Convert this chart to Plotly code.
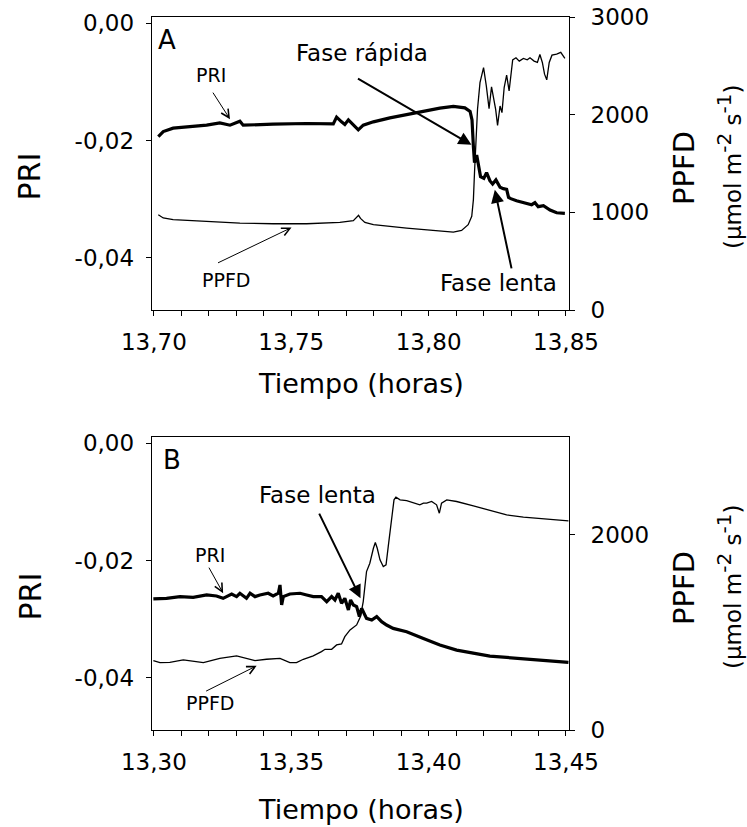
import plotly.graph_objects as go

W, H = 747, 827
FONT = "DejaVu Sans"

# ---------------- Data: panel A ----------------
t_a_pri = [13.7016, 13.7034, 13.7070, 13.7131, 13.7192, 13.7240, 13.7277, 13.7313, 13.7325, 13.7434,
           13.7556, 13.7653, 13.7665, 13.7683, 13.7695, 13.7708, 13.7726, 13.7744, 13.7762, 13.7799,
           13.7859, 13.7920, 13.7981, 13.8041, 13.8090, 13.8132, 13.8151, 13.8158, 13.8163, 13.8167,
           13.8175, 13.8181, 13.8189, 13.8201, 13.8211, 13.8223, 13.8233, 13.8245, 13.8260, 13.8272,
           13.8284, 13.8291, 13.8299, 13.8320, 13.8345, 13.8375, 13.8387, 13.8399, 13.8418, 13.8442,
           13.8466, 13.8496]
pri_a = [-0.01932, -0.01846, -0.01789, -0.01761, -0.01738, -0.01698, -0.01738, -0.01670, -0.01738, -0.01721,
         -0.01709, -0.01715, -0.01601, -0.01681, -0.01726, -0.01647, -0.01726, -0.01818, -0.01738, -0.01681,
         -0.01613, -0.01556, -0.01499, -0.01447, -0.01419, -0.01442, -0.01504, -0.01647, -0.02103, -0.02376,
         -0.02245, -0.02444, -0.02615, -0.02644, -0.02547, -0.02684, -0.02741, -0.02672, -0.02798, -0.02821,
         -0.02832, -0.02969, -0.02991, -0.03026, -0.03060, -0.03094, -0.03060, -0.03128, -0.03111, -0.03185,
         -0.03231, -0.03242]

t_a_ppfd = [13.7016, 13.7034, 13.7070, 13.7192, 13.7313, 13.7434, 13.7556, 13.7677, 13.7726, 13.7745,
            13.7752, 13.7768, 13.7799, 13.7920, 13.8041, 13.8090, 13.8120, 13.8144, 13.8157, 13.8163,
            13.8167, 13.8172, 13.8178, 13.8187, 13.8200, 13.8210, 13.8220, 13.8229, 13.8238, 13.8244,
            13.8251, 13.8260, 13.8267, 13.8275, 13.8284, 13.8293, 13.8306, 13.8318, 13.8330, 13.8345,
            13.8359, 13.8369, 13.8384, 13.8396, 13.8405, 13.8414, 13.8422, 13.8430, 13.8439, 13.8449,
            13.8466, 13.8481, 13.8496]
ppfd_a = [977, 943, 926, 908, 891, 884, 884, 898, 915, 970,
          939, 898, 874, 840, 809, 799, 816, 874, 960, 1131,
          1406, 1748, 2057, 2331, 2485, 2297, 2064, 2287, 2160, 2057,
          1892, 2091, 2023, 2280, 2407, 2245, 2564, 2585, 2551, 2578,
          2564, 2585, 2551, 2537, 2619, 2537, 2417, 2359, 2537, 2612,
          2623, 2640, 2578]

# ---------------- Data: panel B ----------------
t_b_pri = [13.2998, 13.3046, 13.3095, 13.3143, 13.3192, 13.3228, 13.3252, 13.3283, 13.3301, 13.3313,
           13.3337, 13.3350, 13.3368, 13.3386, 13.3416, 13.3434, 13.3453, 13.3459, 13.3465, 13.3471,
           13.3495, 13.3532, 13.3556, 13.3580, 13.3610, 13.3629, 13.3647, 13.3659, 13.3671, 13.3683,
           13.3695, 13.3708, 13.3716, 13.3726, 13.3738, 13.3748, 13.3756, 13.3765, 13.3774, 13.3793,
           13.3811, 13.3829, 13.3847, 13.3871, 13.3920, 13.3981, 13.4041, 13.4102, 13.4163, 13.4223,
           13.4284, 13.4345, 13.4405, 13.4466, 13.4509]
pri_b = [-0.02655, -0.02644, -0.02615, -0.02627, -0.02587, -0.02604, -0.02644, -0.02570, -0.02615, -0.02558,
         -0.02644, -0.02558, -0.02615, -0.02587, -0.02558, -0.02604, -0.02558, -0.02416, -0.02758, -0.02615,
         -0.02570, -0.02558, -0.02587, -0.02615, -0.02615, -0.02701, -0.02615, -0.02672, -0.02558, -0.02729,
         -0.02644, -0.02843, -0.02672, -0.02758, -0.02786, -0.02957, -0.02815, -0.02900, -0.02986, -0.03014,
         -0.02957, -0.03043, -0.03100, -0.03157, -0.03214, -0.03328, -0.03442, -0.03527, -0.03584, -0.03630,
         -0.03652, -0.03675, -0.03709, -0.03726, -0.03738]

t_b_ppfd = [13.2998, 13.3022, 13.3058, 13.3107, 13.3180, 13.3240, 13.3301, 13.3337, 13.3368, 13.3410,
            13.3459, 13.3495, 13.3519, 13.3544, 13.3580, 13.3610, 13.3623, 13.3647, 13.3665, 13.3683,
            13.3695, 13.3714, 13.3738, 13.3752, 13.3762, 13.3774, 13.3786, 13.3799, 13.3806, 13.3813,
            13.3823, 13.3835, 13.3845, 13.3853, 13.3865, 13.3874, 13.3881, 13.3896, 13.3920, 13.3944,
            13.3968, 13.3981, 13.3993, 13.4011, 13.4029, 13.4039, 13.4047, 13.4066, 13.4102, 13.4163,
            13.4223, 13.4284, 13.4345, 13.4405, 13.4466, 13.4509]
ppfd_b = [711, 691, 694, 718, 691, 735, 759, 735, 711, 725,
          735, 691, 691, 725, 759, 803, 827, 827, 872, 882,
          957, 1026, 1077, 1162, 1316, 1624, 1709, 1863, 1921, 1863,
          1744, 1675, 1692, 1880, 2154, 2359, 2386, 2359, 2352, 2332,
          2308, 2325, 2325, 2342, 2308, 2222, 2325, 2359, 2342, 2297,
          2250, 2205, 2181, 2168, 2154, 2144]

# ---------------- Ticks ----------------
xa_vals = [13.70, 13.75, 13.80, 13.85]
xa_text = ["13,70", "13,75", "13,80", "13,85"]
xb_vals = [13.30, 13.35, 13.40, 13.45]
xb_text = ["13,30", "13,35", "13,40", "13,45"]
pri_vals = [0.0, -0.02, -0.04]
pri_text = ["0,00", "-0,02", "-0,04"]
ppfd_a_vals = [0, 1000, 2000, 3000]
ppfd_b_vals = [0, 2000]


def px(x):
    return x / W


def py(y):
    return 1 - y / H


XDOM = [px(151.7), px(569.0)]
YDOM_A = [py(310.0), py(17.3)]
YDOM_B = [py(730.0), py(437.3)]

tickfont = dict(family=FONT, size=23, color="black")
base_axis = dict(showgrid=False, zeroline=False, showline=True, linecolor="black", linewidth=1,
                 ticks="outside", ticklen=5, tickwidth=1, tickcolor="black", tickfont=tickfont,
                 automargin=False)

fig = go.Figure()
fig.add_trace(go.Scatter(x=t_a_pri, y=pri_a, mode="lines", line=dict(color="black", width=3.2),
                         xaxis="x", yaxis="y", showlegend=False))
fig.add_trace(go.Scatter(x=t_a_ppfd, y=ppfd_a, mode="lines", line=dict(color="black", width=1.3),
                         xaxis="x", yaxis="y2", showlegend=False))
fig.add_trace(go.Scatter(x=t_b_pri, y=pri_b, mode="lines", line=dict(color="black", width=3.2),
                         xaxis="x2", yaxis="y3", showlegend=False))
fig.add_trace(go.Scatter(x=t_b_ppfd, y=ppfd_b, mode="lines", line=dict(color="black", width=1.3),
                         xaxis="x2", yaxis="y4", showlegend=False))

minor = dict(dtick=0.01, ticks="outside", ticklen=5, tickwidth=1, tickcolor="black")

fig.update_layout(
    width=W, height=H, margin=dict(l=0, r=0, t=0, b=0, pad=0, autoexpand=False),
    paper_bgcolor="white", plot_bgcolor="white", showlegend=False,
    font=dict(family=FONT, color="black"),
    xaxis=dict(base_axis, domain=XDOM, anchor="y", range=[13.6992, 13.8511], mirror=True,
               tickvals=xa_vals, ticktext=xa_text, minor=minor, ticklabelstandoff=6),
    yaxis=dict(base_axis, domain=YDOM_A, anchor="x", range=[-0.0489, 0.00102],
               tickvals=pri_vals, ticktext=pri_text, ticklabelstandoff=7),
    yaxis2=dict(base_axis, overlaying="y", side="right", anchor="x", range=[0, 3000],
                tickvals=ppfd_a_vals, ticktext=[str(v) for v in ppfd_a_vals], ticklabelstandoff=11),
    xaxis2=dict(base_axis, domain=XDOM, anchor="y3", range=[13.2992, 13.4511], mirror=True,
                tickvals=xb_vals, ticktext=xb_text, minor=minor, ticklabelstandoff=6),
    yaxis3=dict(base_axis, domain=YDOM_B, anchor="x2", range=[-0.0489, 0.00102],
                tickvals=pri_vals, ticktext=pri_text, ticklabelstandoff=7),
    yaxis4=dict(base_axis, overlaying="y3", side="right", anchor="x2", range=[0, 3000],
                tickvals=ppfd_b_vals, ticktext=[str(v) for v in ppfd_b_vals], ticklabelstandoff=11),
)


def text(t, x, y, size, angle=0):
    fig.add_annotation(text=t, x=px(x), y=py(y), xref="paper", yref="paper", showarrow=False,
                       xanchor="center", yanchor="middle", textangle=angle,
                       font=dict(family=FONT, size=size, color="black"))


def arrow(x, y, xr, yr, ax, ay, head, width, size):
    fig.add_annotation(text="", x=x, y=y, xref=xr, yref=yr, ax=ax, ay=ay, showarrow=True,
                       arrowhead=head, arrowwidth=width, arrowsize=size, arrowcolor="black",
                       standoff=0, startstandoff=0)


SUP = "<sup><span style='font-size:20px'>{}</span></sup>"
units = "(\u00b5mol m" + SUP.format("-2") + " s" + SUP.format("-1") + ")"

# axis titles
for off in (0, 420):
    text("PRI", 29.5, 177 + off, 30, -90)
    text("PPFD", 684, 168 + off, 29, -90)
    text(units, 729, 167 + off, 23, -90)
text("Tiempo (horas)", 361, 383, 27)
text("Tiempo (horas)", 361, 809, 27)

# panel labels
text("A", 167, 40, 26)
text("B", 172, 460, 26)

# panel A annotations
text("Fase r\u00e1pida", 362, 53, 23)
text("Fase lenta", 498, 283, 23)
text("PRI", 211, 75, 19)
text("PPFD", 226, 280, 19)
arrow(13.8156, -0.02073, "x", "y", -115, -67, 2, 2, 1.3)
arrow(13.8241, -0.02841, "x", "y", 17, 80, 2, 2, 1.3)
arrow(13.7277, -0.01635, "x", "y", -18, -28, 5, 1, 1.6)
arrow(13.7501, -0.03484, "x", "y", -75, 36, 5, 1, 1.6)

# panel B annotations
text("Fase lenta", 317, 495, 23)
text("PRI", 210, 555, 19)
text("PPFD", 210, 703, 19)
arrow(13.3752, -0.02641, "x2", "y3", -42, -86, 2, 2, 1.3)
arrow(13.3252, -0.02556, "x2", "y3", -15, -27, 5, 1, 1.6)
arrow(13.3374, -0.03796, "x2", "y3", -52, 26, 5, 1, 1.6)

fig.write_html("out.html")
